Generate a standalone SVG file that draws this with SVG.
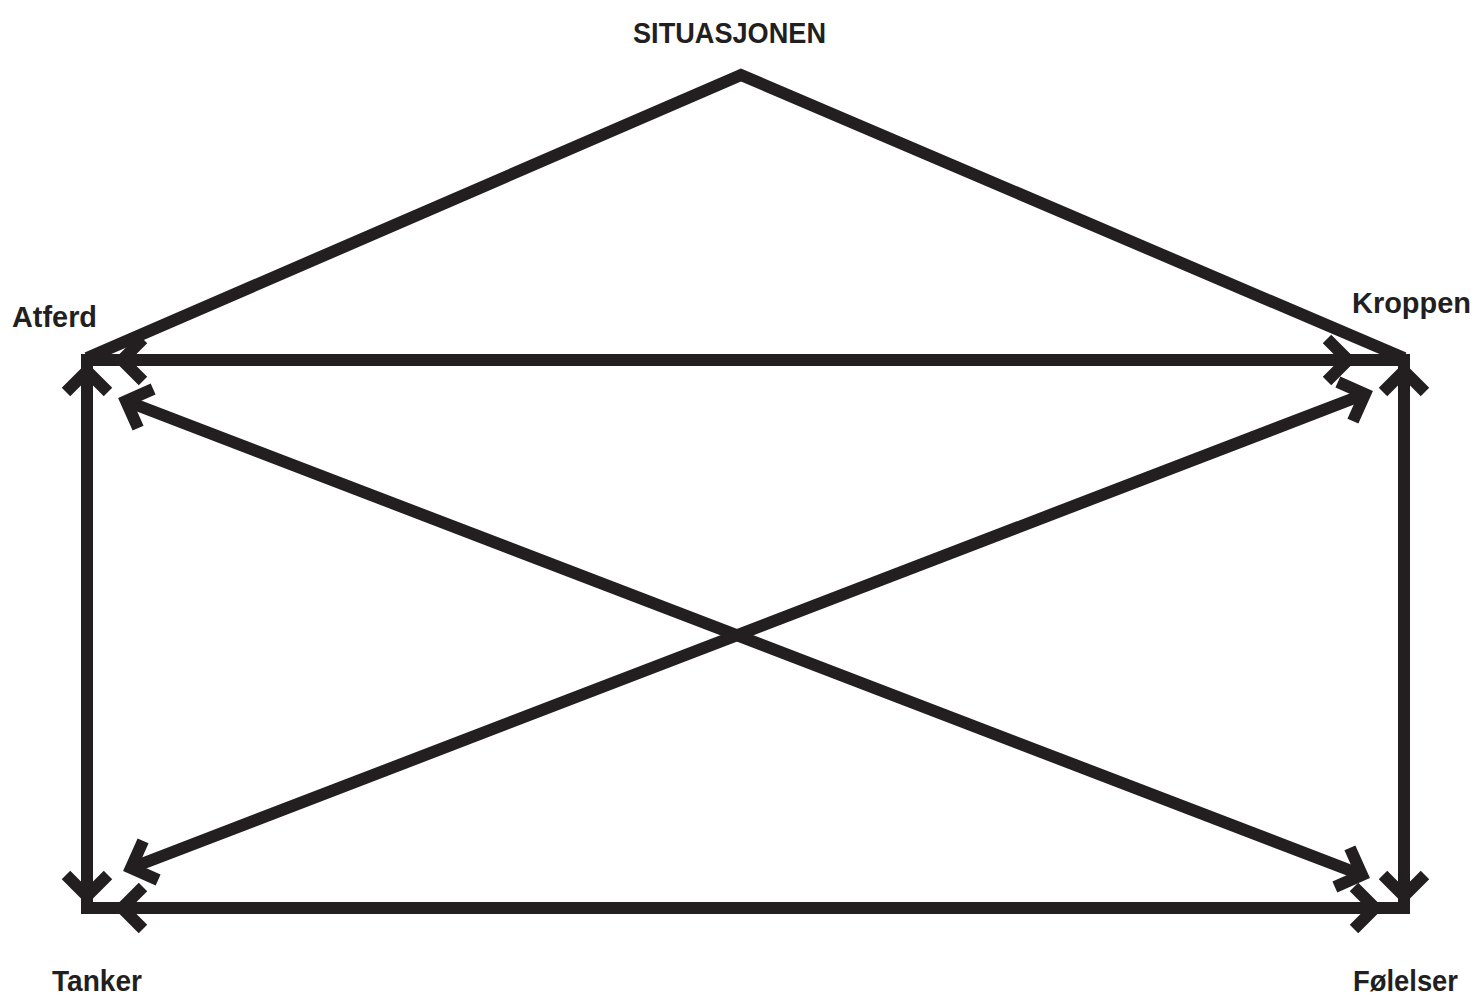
<svg xmlns="http://www.w3.org/2000/svg" xmlns:xlink="http://www.w3.org/1999/xlink" width="1475" height="996" viewBox="0 0 1475 996">
  <style>
    .ln { fill: none; stroke: #231f20; stroke-width: 12; stroke-linejoin: miter; stroke-miterlimit: 10; }
    .edge { stroke-linecap: square; }
    .diag { stroke-linecap: butt; }
    .lbl { font-family: "Liberation Sans", Arial, sans-serif; font-weight: bold; font-size: 29px; fill: #231f20; }
  </style>
  <defs>
    <path id="chev" class="ln" d="M -21 -21 L 0 0 L -21 21"/>
  </defs>
  <rect width="1475" height="996" fill="#ffffff"/>

  <g id="connectors">
    <polyline id="roof" class="ln diag" points="87,358 741,75 1404,358"/>
    <line id="top-edge" class="ln edge" x1="87" y1="360" x2="1404" y2="360"/>
    <line id="bottom-edge" class="ln edge" x1="87" y1="908" x2="1404" y2="908"/>
    <line id="left-edge" class="ln edge" x1="87" y1="360" x2="87" y2="908"/>
    <line id="right-edge" class="ln edge" x1="1404" y1="360" x2="1404" y2="908"/>
    <line id="diag-atferd-folelser" class="ln diag" x1="126" y1="401" x2="1362" y2="875"/>
    <line id="diag-tanker-kroppen" class="ln diag" x1="131" y1="868" x2="1365" y2="394"/>
    <!-- arrowheads -->
    <use xlink:href="#chev" transform="translate(122,360) rotate(180)"/>
    <use xlink:href="#chev" transform="translate(1348,360)"/>
    <use xlink:href="#chev" transform="translate(122,908) rotate(180)"/>
    <use xlink:href="#chev" transform="translate(1375,908)"/>
    <use xlink:href="#chev" transform="translate(87,371) rotate(-90)"/>
    <use xlink:href="#chev" transform="translate(87,896) rotate(90)"/>
    <use xlink:href="#chev" transform="translate(1404,371) rotate(-90)"/>
    <use xlink:href="#chev" transform="translate(1404,896) rotate(90)"/>
    <use xlink:href="#chev" transform="translate(126,401) rotate(200.98)"/>
    <use xlink:href="#chev" transform="translate(1362,875) rotate(20.98)"/>
    <use xlink:href="#chev" transform="translate(131,868) rotate(159)"/>
    <use xlink:href="#chev" transform="translate(1365,394) rotate(-21)"/>
  </g>

  <g id="node-situasjonen"><text class="lbl" x="729.5" y="43" text-anchor="middle" textLength="193" lengthAdjust="spacingAndGlyphs">SITUASJONEN</text></g>
  <g id="node-atferd"><text class="lbl" x="12" y="327" textLength="85" lengthAdjust="spacingAndGlyphs">Atferd</text></g>
  <g id="node-kroppen"><text class="lbl" x="1352" y="313" textLength="119" lengthAdjust="spacingAndGlyphs">Kroppen</text></g>
  <g id="node-tanker"><text class="lbl" x="52" y="991" textLength="90" lengthAdjust="spacingAndGlyphs">Tanker</text></g>
  <g id="node-folelser"><text class="lbl" x="1353" y="991" textLength="105" lengthAdjust="spacingAndGlyphs">Følelser</text></g>
</svg>
